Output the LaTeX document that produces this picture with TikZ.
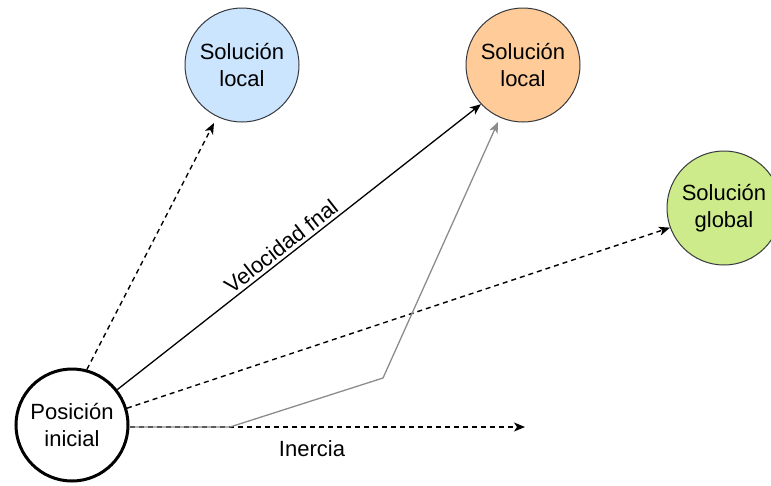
\documentclass[tikz,border=0pt]{standalone}
\usepackage{fontspec}
\setmainfont{Liberation Sans}
\usetikzlibrary{arrows.meta}
\definecolor{blueF}{RGB}{204,229,255}
\definecolor{orangeF}{RGB}{255,204,153}
\definecolor{greenF}{RGB}{205,235,139}
\definecolor{rimC}{RGB}{54,57,61}
\definecolor{grayL}{RGB}{140,140,140}
\begin{document}
\begin{tikzpicture}[x=1pt,y=-1pt,
  every node/.style={font=\fontsize{22}{27}\selectfont, align=center},
  sol/.style={circle, draw=rimC, line width=1pt, minimum size=114pt, inner sep=0pt},
  start/.style={circle, draw=black, line width=3pt, minimum size=112pt, inner sep=0pt, fill=white},
  tip/.style={-{Stealth[length=11pt,width=9pt,inset=3pt]}},
  dsh/.style={tip, line width=1.4pt, dash pattern=on 5pt off 4pt},
  sld/.style={tip, line width=1.3pt}
]
\useasboundingbox (0,0) rectangle (771,485);
\begin{scope}
\clip (0,0) rectangle (771,485);
\node[sol, fill=blueF] (loc1) at (242,65) {Solución\\local};
\node[sol, fill=orangeF] (loc2) at (523,65) {Solución\\local};
\node[sol, fill=greenF] (glob) at (724,208) {Solución\\global};
\end{scope}
\node[start] (pos) at (72,425) {Posición\\inicial};
\coordinate (b1) at (230,427);
\coordinate (b2) at (383,378);
\coordinate (g2) at (498,122);
\coordinate (inend) at (525,427);
\coordinate (bt) at (214,123);
\draw[dsh] (pos.75) -- (bt);
\draw[sld] (pos.38) -- (loc2.223) node[pos=0.47, sloped, above, inner sep=3pt] {Velocidad fnal};
\draw[dsh] (pos.17) -- (glob.200);
\draw[dsh] (pos.east |- b1) -- (inend);
\draw[sld, draw=grayL, -{Stealth[length=11pt,width=9pt,inset=3pt,fill=grayL]}] (pos.east |- b1) -- (b1) -- (b2) -- (g2);
\node (in) at (312,449) {Inercia};
\end{tikzpicture}
\end{document}
